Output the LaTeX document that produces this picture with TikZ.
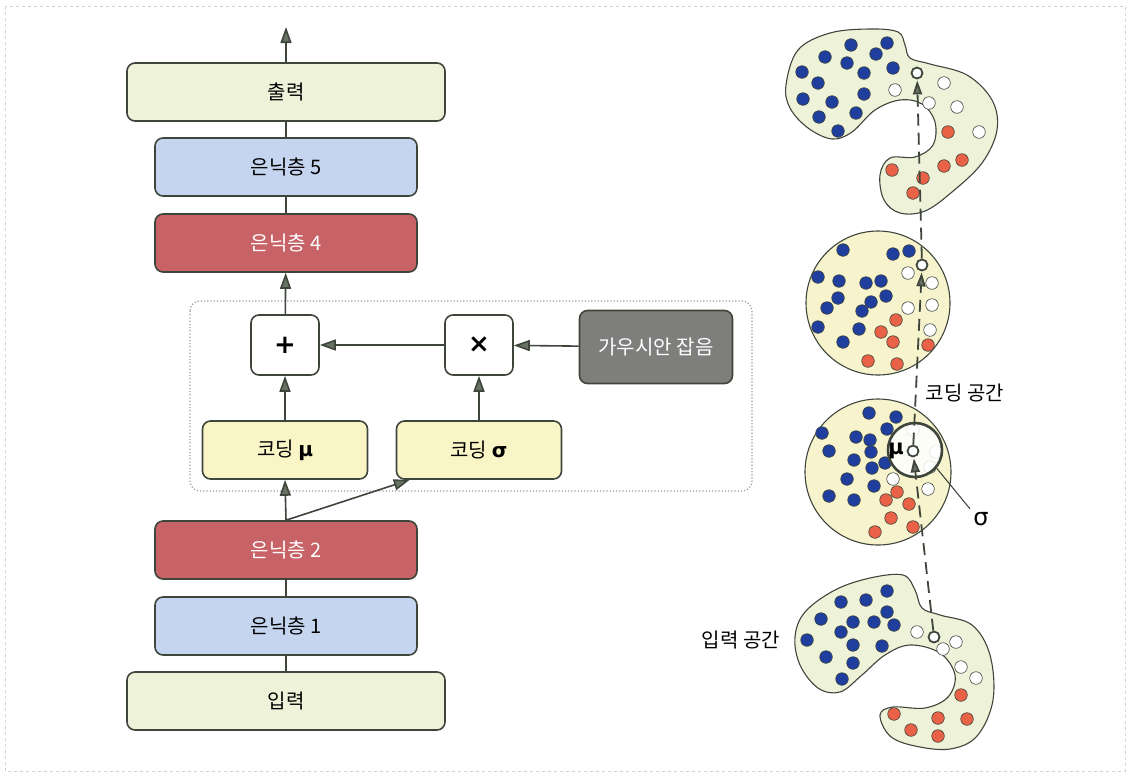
\documentclass[tikz,border=0pt]{standalone}
\usepackage{fontspec}
\setmainfont{Noto Sans CJK KR}
\newfontfamily\grkfont{DejaVu Sans}
\usetikzlibrary{arrows.meta}
\definecolor{lnclr}{RGB}{62,70,60}
\definecolor{arrfill}{RGB}{105,115,100}
\definecolor{greenfill}{RGB}{237,242,216}
\definecolor{bluefill}{RGB}{197,213,240}
\definecolor{redfill}{RGB}{199,98,102}
\definecolor{yelfill}{RGB}{250,245,198}
\definecolor{noisefill}{RGB}{126,126,124}
\definecolor{circfill}{RGB}{247,243,204}
\definecolor{dotblue}{RGB}{32,62,158}
\definecolor{dotred}{RGB}{233,98,72}
\tikzset{
  layer/.style={draw=lnclr, line width=1.6pt, rounded corners=8pt, minimum height=58pt,
    font=\fontsize{20}{24}\selectfont},
  opbox/.style={layer, fill=white, minimum width=68pt, minimum height=60pt,
    font=\fontsize{26}{26}\selectfont\grkfont\bfseries},
  conn/.style={draw=lnclr, line width=1.6pt, -{Triangle[length=16pt,width=11pt,fill=arrfill]}},
  link/.style={draw=lnclr, line width=1.6pt},
  trace/.style={draw=lnclr, line width=1.8pt, dash pattern=on 12pt off 7pt,
    -{Triangle[length=14pt,width=9pt,fill=arrfill]}, shorten >=1pt},
  blob/.style={draw=lnclr, line width=1.1pt, fill=greenfill},
  space/.style={draw=lnclr, line width=1.1pt, fill=circfill},
  enddot/.style={circle, draw=lnclr, line width=1.8pt, fill=white, minimum size=11pt, inner sep=0pt},
  lbl/.style={font=\fontsize{20}{24}\selectfont}
}
\begin{document}
\begin{tikzpicture}[x=1pt,y=-1pt]
\useasboundingbox (0,0) rectangle (1132,780);
%Shape: outer frame
\draw[gray!35, dashed, line width=0.6pt] (5,6) rectangle (1125,771);

%Shape: dotted frame
\draw[gray!80, line width=1.2pt, dotted, rounded corners=10pt] (190,301) rectangle (752,491);

% Layer Nodes
\node[layer, fill=greenfill, minimum width=318pt] (out) at (286,92) {출력};
\node[layer, fill=bluefill, minimum width=262pt] (h5) at (286,167) {은닉층 5};
\node[layer, fill=redfill, minimum width=262pt, text=white] (h4) at (286,243) {은닉층 4};
\node[opbox] (plus) at (285,345) {+};
\node[opbox] (times) at (479,345) {×};
\node[layer, fill=noisefill, minimum width=153pt, minimum height=73pt, text=white] (noise) at (656,347) {가우시안 잡음};
\node[layer, fill=yelfill, minimum width=165pt] (codemu) at (285,450) {코딩 {\grkfont\bfseries μ}};
\node[layer, fill=yelfill, minimum width=165pt] (codesig) at (479,450) {코딩 {\grkfont\bfseries σ}};
\node[layer, fill=redfill, minimum width=262pt, text=white] (h2) at (286,550) {은닉층 2};
\node[layer, fill=bluefill, minimum width=262pt] (h1) at (286,626) {은닉층 1};
\node[layer, fill=greenfill, minimum width=318pt] (in) at (286,701) {입력};
\coordinate (top) at (286,27);

% Connectors
\draw[link] (in) -- (h1);
\draw[link] (h1) -- (h2);
\draw[conn] (h2.north) -- (codemu.south);
\draw[conn] (h2.north) -- ([xshift=14pt]codesig.south west);
\draw[conn] (codemu) -- (plus);
\draw[conn] (codesig) -- (times);
\draw[conn] (noise) -- (times);
\draw[conn] (times) -- (plus);
\draw[conn] (plus) -- (h4);
\draw[link] (h4) -- (h5);
\draw[link] (h5) -- (out);
\draw[conn] (out.north) -- (top);

%Shape: output space
\draw[blob] plot[smooth cycle, tension=0.6] coordinates {(786,85) (798,50) (830,33) (870,29) (898,32) (905,45) (910,58) (930,64) (967,75) (992,100) (997,130) (982,163) (952,192) (925,211) (900,213) (884,200) (880,175) (890,158) (915,157) (933,145) (935,122) (922,104) (900,100) (875,110) (852,132) (832,139) (808,128) (790,108)};
\foreach \x/\y in {851/45, 887/43, 825/57, 876/54, 847/63, 802/72, 864/73, 893/68, 818/83, 803/99, 832/102, 864/94, 819/117, 856/113, 838/131}
  \filldraw[fill=dotblue, draw=lnclr, line width=0.6pt] (\x,\y) circle (6.3);
\foreach \x/\y in {895/90, 944/83, 929/103, 957/107, 979/132}
  \filldraw[fill=white, draw=lnclr, line width=0.6pt] (\x,\y) circle (6.3);
\foreach \x/\y in {948/132, 944/166, 962/160, 892/170, 923/178, 913/193}
  \filldraw[fill=dotred, draw=lnclr, line width=0.6pt] (\x,\y) circle (6.3);

%Shape: coding space 1
\draw[space] (878,303) circle (72);
\foreach \x/\y in {843/250, 893/254, 909/251, 818/277, 839/281, 866/283, 881/281, 838/298, 871/302, 886/296, 827/308, 862/311, 818/327, 859/329, 843/342}
  \filldraw[fill=dotblue, draw=lnclr, line width=0.6pt] (\x,\y) circle (6.3);
\foreach \x/\y in {908/273, 932/283, 908/308, 932/305, 930/330}
  \filldraw[fill=white, draw=lnclr, line width=0.6pt] (\x,\y) circle (6.3);
\foreach \x/\y in {896/320, 881/332, 893/342, 928/345, 868/361, 897/364}
  \filldraw[fill=dotred, draw=lnclr, line width=0.6pt] (\x,\y) circle (6.3);

%Shape: coding space 2
\draw[space] (878,472) circle (73);
\foreach \x/\y in {869/413, 896/417, 822/433, 856/437, 870/440, 887/429, 829/451, 871/452, 854/460, 872/468, 885/463, 847/479, 874/486, 829/496, 854/500}
  \filldraw[fill=dotblue, draw=lnclr, line width=0.6pt] (\x,\y) circle (6.3);
\foreach \x/\y in {893/479, 928/489, 913/430, 936/452, 930/467}
  \filldraw[fill=white, draw=lnclr, line width=0.6pt] (\x,\y) circle (6.3);
\foreach \x/\y in {897/492, 886/500, 909/504, 891/518, 875/532, 913/527}
  \filldraw[fill=dotred, draw=lnclr, line width=0.6pt] (\x,\y) circle (6.3);
\node[circle, draw=lnclr, line width=2.6pt, fill=white, fill opacity=0.85, minimum size=54pt] (sigcirc) at (915,450) {};

%Shape: input space
\draw[blob] plot[smooth cycle, tension=0.6] coordinates {(795,637) (805,612) (835,590) (870,578) (903,575) (915,590) (922,608) (940,615) (972,625) (990,655) (993,700) (977,736) (950,749) (915,746) (890,736) (880,715) (893,707) (925,708) (948,697) (955,675) (940,653) (910,645) (885,655) (862,675) (840,692) (818,688) (800,665)};
\foreach \x/\y in {887/591, 841/602, 866/600, 887/612, 821/619, 853/622, 874/622, 894/625, 841/632, 807/640, 853/645, 882/646, 826/657, 853/663, 842/679}
  \filldraw[fill=dotblue, draw=lnclr, line width=0.6pt] (\x,\y) circle (6.3);
\foreach \x/\y in {917/632, 943/649, 956/642, 961/667, 976/678}
  \filldraw[fill=white, draw=lnclr, line width=0.6pt] (\x,\y) circle (6.3);
\foreach \x/\y in {961/695, 894/714, 938/718, 967/719, 911/730, 938/736}
  \filldraw[fill=dotred, draw=lnclr, line width=0.6pt] (\x,\y) circle (6.3);

% Trace Nodes
\node[enddot] (ptin) at (934,637) {};
\node[enddot] (ptmu) at (913,451) {};
\node[enddot] (ptcode) at (922,265) {};
\node[enddot] (ptout) at (917,73) {};
\draw[trace] (ptin) -- (ptmu);
\draw[trace] (ptmu) -- (ptcode);
\draw[trace] (ptcode) -- (ptout);

% Text Node
\node[font=\fontsize{21}{21}\selectfont\grkfont\bfseries] (mulbl) at (896,451) {μ};
\node[font=\fontsize{24}{24}\selectfont\grkfont] (siglbl) at (981,519) {σ};
\draw[lnclr, line width=1.1pt] (siglbl.north west) -- (sigcirc.-40);
\node[lbl] (codelbl) at (965,393) {코딩 공간};
\node[lbl] (inlbl) at (741,640) {입력 공간};
\end{tikzpicture}
\end{document}
